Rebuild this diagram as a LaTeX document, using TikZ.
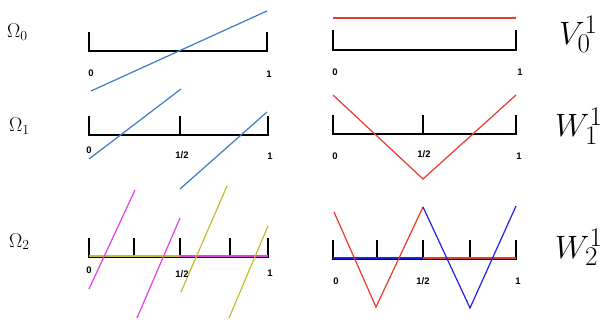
\documentclass[tikz,border=0pt]{standalone}
\usepackage{fontspec}
\newfontfamily\tickfont{Liberation Sans}
\definecolor{cblue}{HTML}{3B7BC8}
\definecolor{cred}{HTML}{E8392F}
\definecolor{cmag}{HTML}{E23FE6}
\definecolor{cyel}{HTML}{C4BC2E}
\definecolor{pblue}{HTML}{1F1FE6}
\newcommand{\omtxt}[1]{\scalebox{1.15}{\fontsize{17.28}{20}\selectfont$#1$}}
\newcommand{\sptxt}[1]{\scalebox{1.3}{\fontsize{24.88}{30}\selectfont$#1$}}
\begin{document}
\begin{tikzpicture}[x=1pt,y=-1pt,
  axis/.style={black, line width=1.4pt},
  fn/.style={line width=1.2pt},
  ticklab/.style={font=\tickfont\bfseries\fontsize{9.5}{9.5}\selectfont, inner sep=0pt},
  omlab/.style={inner sep=0pt, anchor=base west},
  splab/.style={inner sep=0pt, anchor=base west}]
\useasboundingbox (0,0) rectangle (604,320);
% row labels
\node[omlab] (om0) at (7,38) {\omtxt{\Omega_0}};
\node[omlab] (om1) at (9,132) {\omtxt{\Omega_1}};
\node[omlab] (om2) at (9,247) {\omtxt{\Omega_2}};
\node[splab] (v0) at (559,45) {\sptxt{V_0^1}};
\node[splab] (w1) at (555,137) {\sptxt{W_1^1}};
\node[splab] (w2) at (555,258) {\sptxt{W_2^1}};
% row 0
\draw[axis] (89,32) -- (89,51) -- (267,51) -- (267,32);
\draw[fn, cblue] (91,91) -- (267,11);
\node[ticklab] (a0) at (91,73) {0};
\node[ticklab] (a1) at (269,74) {1};
\draw[axis] (333,30) -- (333,50) -- (516,50) -- (516,30);
\draw[fn, cred] (333,18) -- (516,18);
\node[ticklab] (b0) at (335,72) {0};
\node[ticklab] (b1) at (520,72) {1};
% row 1
\draw[axis] (89,116) -- (89,135) -- (268,135) -- (268,116);
\draw[axis] (180,116) -- (180,135);
\draw[fn, cblue] (89,159) -- (181,89);
\draw[fn, cblue] (180,189) -- (267,112);
\node[ticklab] (c0) at (89,150) {0};
\node[ticklab] (ch) at (182,155) {1/2};
\node[ticklab] (c1) at (270,156) {1};
\draw[axis] (333,115) -- (333,134) -- (516,134) -- (516,115);
\draw[axis] (423,115) -- (423,134);
\draw[fn, cred] (333,95) -- (423,179) -- (516,95);
\node[ticklab] (d0) at (335,156) {0};
\node[ticklab] (dh) at (424,154) {1/2};
\node[ticklab] (d1) at (519,156) {1};
% row 2
\draw[axis] (89,238) -- (89,257) -- (268,257) -- (268,238);
\foreach \x in {134,180,230} \draw[axis] (\x,238) -- (\x,257);
\draw[fn, cyel] (89,256) -- (180,256);
\draw[fn, cmag] (180,256) -- (268,256);
\draw[fn, cmag] (89,289) -- (135,190);
\draw[fn, cmag] (137,318) -- (180,218);
\draw[fn, cyel] (181,292) -- (227,186);
\draw[fn, cyel] (229,318) -- (268,226);
\node[ticklab] (e0) at (89,270) {0};
\node[ticklab] (eh) at (182,274) {1/2};
\node[ticklab] (e1) at (270,273) {1};
\draw[axis] (333,240) -- (333,259) -- (516,259) -- (516,240);
\foreach \x in {377,423,470} \draw[axis] (\x,240) -- (\x,259);
\draw[fn, pblue] (333,258) -- (423,258);
\draw[fn, cred] (423,258) -- (516,258);
\draw[fn, cred] (334,212) -- (376,307) -- (423,207);
\draw[fn, pblue] (423,207) -- (470,308) -- (516,206);
\node[ticklab] (f0) at (336,281) {0};
\node[ticklab] (fh) at (423,281) {1/2};
\node[ticklab] (f1) at (518,281) {1};
\end{tikzpicture}
\end{document}
